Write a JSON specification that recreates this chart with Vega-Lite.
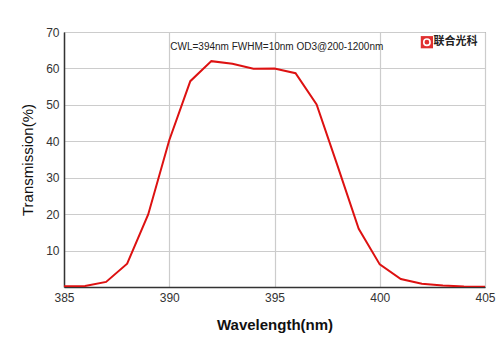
{
  "$schema": "https://vega.github.io/schema/vega-lite/v6.json",
  "autosize": "none",
  "width": 421,
  "height": 255,
  "padding": {"left": 64, "top": 32, "right": 15, "bottom": 66},
  "background": "white",
  "config": {
    "view": {"stroke": "#666", "strokeWidth": 1},
    "font": "Liberation Sans",
    "axis": {"labelFont": "Liberation Sans", "titleFont": "Liberation Sans"}
  },
  "datasets": {
    "curve": [
      {"wl": 385, "t": 0.2}, {"wl": 386, "t": 0.3}, {"wl": 387, "t": 1.4},
      {"wl": 388, "t": 6.4}, {"wl": 389, "t": 19.9}, {"wl": 390, "t": 40.3},
      {"wl": 391, "t": 56.5}, {"wl": 392, "t": 62.0}, {"wl": 393, "t": 61.3},
      {"wl": 394, "t": 59.9}, {"wl": 395, "t": 60.0}, {"wl": 396, "t": 58.7},
      {"wl": 397, "t": 50.1}, {"wl": 398, "t": 33.2}, {"wl": 399, "t": 16.0},
      {"wl": 400, "t": 6.2}, {"wl": 401, "t": 2.2}, {"wl": 402, "t": 0.9},
      {"wl": 403, "t": 0.4}, {"wl": 404, "t": 0.15}, {"wl": 405, "t": 0.1}
    ],
    "note": [{"wl": 390.05, "t": 65.8, "label": "CWL=394nm FWHM=10nm OD3@200-1200nm"}],
    "logo": [{"wl": 402.24, "t": 67.2}],
    "logotext": [{"wl": 402.55, "t": 67.2, "label": "联合光科"}]
  },
  "encoding": {
    "x": {
      "field": "wl", "type": "quantitative",
      "scale": {"domain": [385, 405], "nice": false, "zero": false},
      "axis": {
        "values": [385, 390, 395, 400, 405],
        "title": "Wavelength(nm)",
        "titleFontSize": 15, "titleFontWeight": "bold", "titleColor": "#111",
        "titlePadding": 14,
        "labelFontSize": 12, "labelColor": "#333", "labelPadding": 5,
        "labelOverlap": false, "labelFlush": false, "labelBound": false,
        "ticks": false,
        "domainColor": "#333", "domainWidth": 1.5,
        "grid": true, "gridColor": "#ccc", "gridWidth": 1.2
      }
    },
    "y": {
      "field": "t", "type": "quantitative",
      "scale": {"domain": [0, 70], "nice": false},
      "axis": {
        "values": [0, 10, 20, 30, 40, 50, 60, 70],
        "labelExpr": "datum.value == 0 ? '' : datum.label",
        "title": "Transmission(%)",
        "titleFontSize": 15, "titleFontWeight": "normal", "titleColor": "#111",
        "titlePadding": 10,
        "labelFontSize": 12, "labelColor": "#333", "labelPadding": 5,
        "labelOverlap": false, "labelFlush": false, "labelBound": false,
        "ticks": false,
        "domainColor": "#333", "domainWidth": 1.5,
        "grid": true, "gridColor": "#ccc", "gridWidth": 1.2
      }
    }
  },
  "layer": [
    {
      "data": {"name": "curve"},
      "mark": {"type": "line", "color": "#dd1111", "strokeWidth": 2, "clip": true}
    },
    {
      "data": {"name": "note"},
      "mark": {"type": "text", "align": "left", "baseline": "middle", "fontSize": 10, "color": "#222", "font": "Liberation Sans"},
      "encoding": {"text": {"field": "label"}}
    },
    {
      "data": {"name": "logo"},
      "mark": {"type": "point", "shape": "square", "filled": true, "color": "#e03030", "size": 150, "opacity": 1}
    },
    {
      "data": {"name": "logo"},
      "mark": {"type": "point", "shape": "circle", "filled": false, "color": "white", "size": 40, "strokeWidth": 1.6, "opacity": 1}
    },
    {
      "data": {"name": "logotext"},
      "mark": {"type": "text", "align": "left", "baseline": "middle", "fontSize": 11, "fontWeight": "bold", "color": "#222", "font": "Noto Sans CJK SC"},
      "encoding": {"text": {"field": "label"}}
    }
  ]
}
